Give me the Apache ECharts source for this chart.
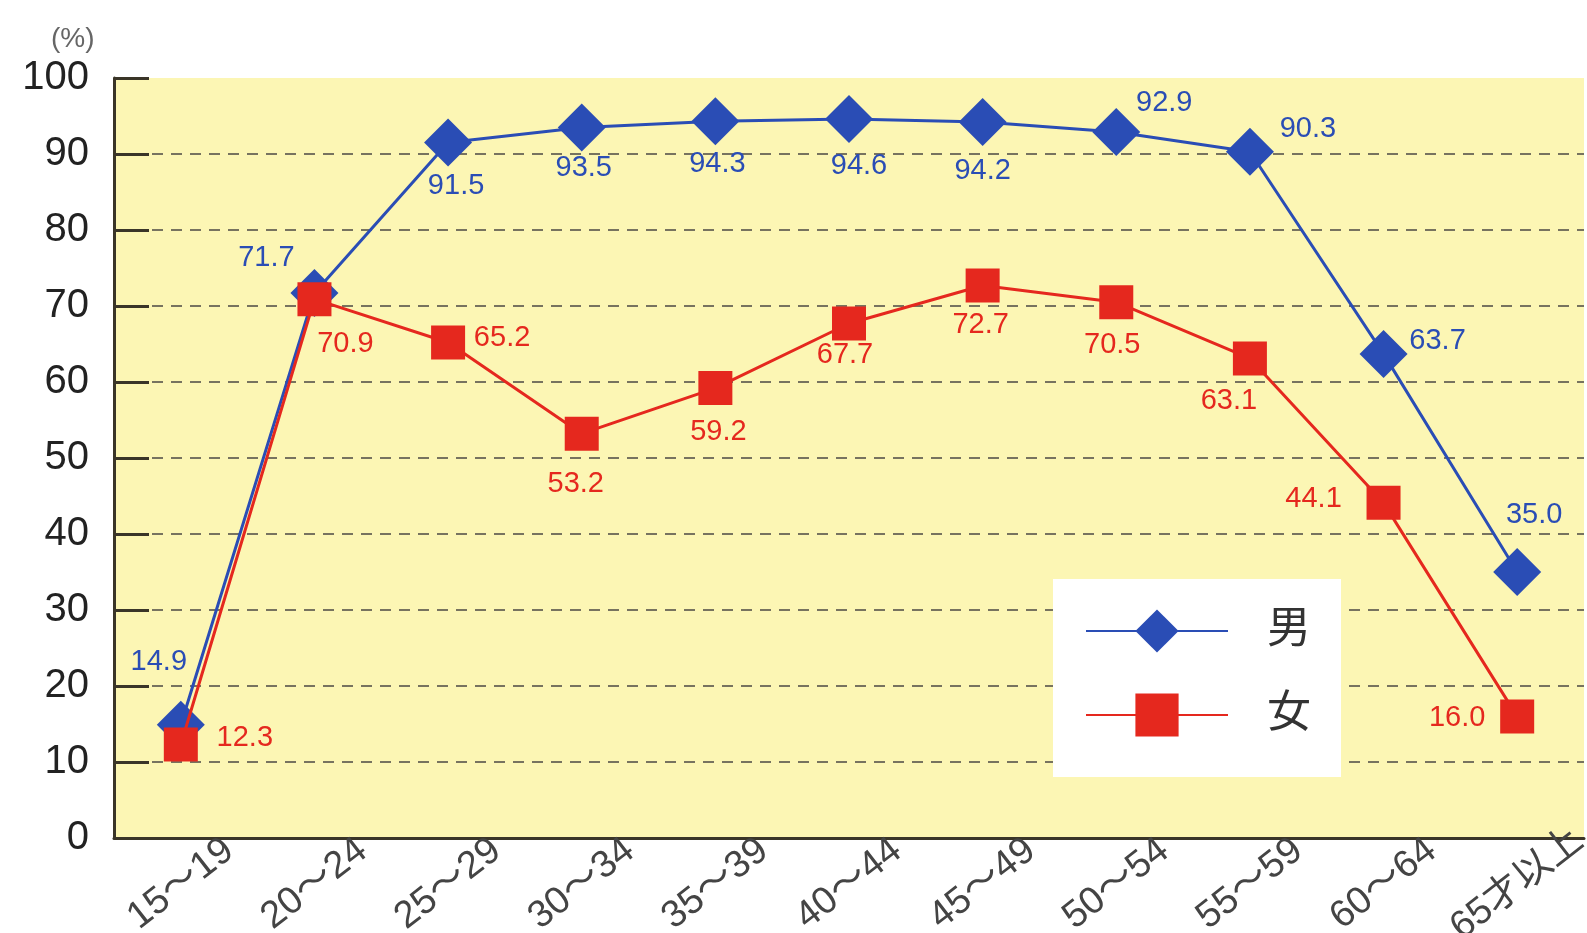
<!DOCTYPE html>
<html>
<head>
<meta charset="utf-8">
<script src="https://cdn.jsdelivr.net/npm/echarts@6/dist/echarts.min.js"></script>
<style>
  html, body { margin: 0; padding: 0; background: #fff; }
  #grafico { width: 1587px; height: 933px; }
</style>
</head>
<body>
<div id="grafico"></div>
<script>
// Datos
const categorias = ['15〜19', '20〜24', '25〜29', '30〜34', '35〜39', '40〜44', '45〜49', '50〜54', '55〜59', '60〜64', '65才以上'];
const hombres = [14.9, 71.7, 91.5, 93.5, 94.3, 94.6, 94.2, 92.9, 90.3, 63.7, 35.0];
const mujeres = [12.3, 70.9, 65.2, 53.2, 59.2, 67.7, 72.7, 70.5, 63.1, 44.1, 16.0];

// Desplazamiento de cada etiqueta respecto al punto
const offsetHombres = [[-22, -63], [-48, -35], [8, 43], [2, 41], [2, 43], [10, 47], [0, 49], [48, -29], [58, -23], [54, -13], [17, -57]];
const offsetMujeres = [[64, -7], [31, 45], [54, -4], [-6, 50], [3, 44], [-4, 32], [-2, 40], [-4, 43], [-21, 43], [-70, -4], [-60, 2]];

const azul = '#2a4db5';
const rojo = '#e5281e';
const fuente = "'Liberation Sans', 'Noto Sans CJK JP', sans-serif";

function armarDatos(valores, offsets) {
    return valores.map((v, i) => ({
        value: v,
        label: { offset: offsets[i] }
    }));
}

// Sin línea discontinua en 0 ni en 100
const coloresRejilla = ['transparent', '#77735f', '#77735f', '#77735f', '#77735f', '#77735f', '#77735f', '#77735f', '#77735f', '#77735f', 'transparent'];

const grafico = echarts.init(document.getElementById('grafico'));
grafico.setOption({
    animation: false,
    textStyle: { fontFamily: fuente },
    title: {
        text: '(%)',
        left: 46,
        top: 20,
        textStyle: { fontSize: 28, fontWeight: 'normal', color: '#666', fontFamily: fuente }
    },
    grid: {
        left: 114,
        right: 3,
        top: 78,
        bottom: 95,
        outerBoundsMode: 'none',
        show: true,
        backgroundColor: '#fcf6b4',
        borderWidth: 0
    },
    legend: {
        left: 1053,
        top: 579,
        orient: 'vertical',
        backgroundColor: '#ffffff',
        padding: [30, 30, 40, 32],
        itemWidth: 142,
        itemHeight: 54,
        itemGap: 40,
        textStyle: { fontSize: 44, color: '#333', padding: [0, 0, 0, 34], fontFamily: fuente },
        data: ['男', '女']
    },
    xAxis: {
        type: 'category',
        data: categorias,
        boundaryGap: true,
        axisLine: { lineStyle: { color: '#3a3528', width: 3 } },
        axisTick: { inside: true, length: 12, interval: 0, lineStyle: { color: '#3a3528', width: 2 } },
        axisLabel: {
            interval: 0,
            rotate: 38,
            align: 'center',
            verticalAlign: 'middle',
            margin: 46,
            fontSize: 38,
            color: '#444'
        }
    },
    yAxis: {
        type: 'value',
        min: 0,
        max: 100,
        interval: 10,
        axisLine: { show: true, lineStyle: { color: '#3a3528', width: 3 } },
        axisTick: { show: true, inside: true, length: 35, lineStyle: { color: '#3a3528', width: 3 } },
        axisLabel: { fontSize: 40, color: '#222', margin: 25 },
        splitLine: { show: true, lineStyle: { color: coloresRejilla, width: 2, type: [11, 8] } }
    },
    series: [
        {
            name: '男',
            type: 'line',
            data: armarDatos(hombres, offsetHombres),
            symbol: 'diamond',
            symbolSize: 48,
            lineStyle: { color: azul, width: 3 },
            itemStyle: { color: azul },
            label: {
                show: true,
                position: 'inside',
                fontSize: 29,
                color: azul,
                formatter: p => p.value.toFixed(1)
            },
            z: 3
        },
        {
            name: '女',
            type: 'line',
            data: armarDatos(mujeres, offsetMujeres),
            symbol: 'rect',
            symbolSize: 34,
            lineStyle: { color: rojo, width: 3 },
            itemStyle: { color: rojo },
            label: {
                show: true,
                position: 'inside',
                fontSize: 29,
                color: rojo,
                formatter: p => p.value.toFixed(1)
            },
            z: 4
        }
    ]
});
</script>
</body>
</html>
